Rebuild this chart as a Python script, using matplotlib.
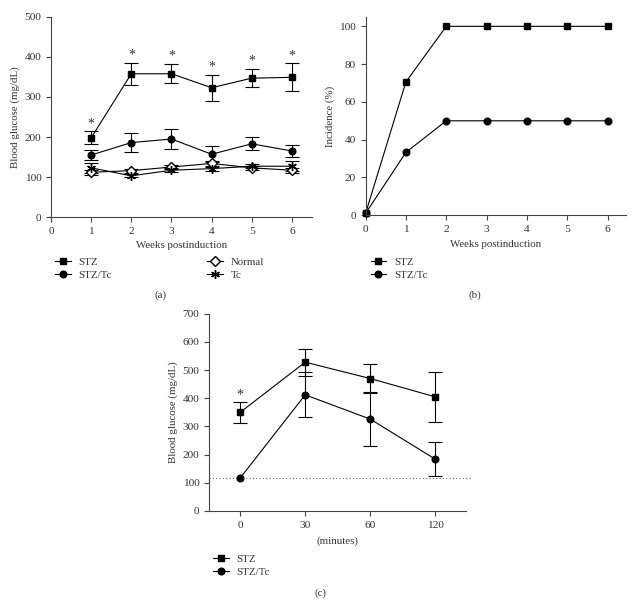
import matplotlib
matplotlib.use("Agg")
import matplotlib.pyplot as plt
from matplotlib.lines import Line2D
import numpy as np

plt.rcParams['font.family'] = ['Liberation Serif', 'DejaVu Serif']
plt.rcParams['font.size'] = 8

TXT = '#333333'
FS = 7.8
TFS = 8.2

# ---------- Panel (a) ----------
weeks_a = [1, 2, 3, 4, 5, 6]
stz_a = [198, 358, 358, 323, 347, 349]
stz_a_err = [16, 27, 24, 33, 23, 35]
stztc_a = [155, 186, 195, 157, 183, 165]
stztc_a_err = [12, 23, 24, 20, 16, 16]
normal_a = [112, 116, 125, 134, 123, 117]
normal_a_err = [6, 5, 6, 6, 5, 6]
tc_a = [123, 103, 117, 121, 127, 127]
tc_a_err = [12, 4, 5, 5, 5, 13]
star_a = [1, 2, 3, 4, 5, 6]

# ---------- Panel (b) ----------
weeks_b = [0, 1, 2, 3, 4, 5, 6]
stz_b = [1, 70.6, 100, 100, 100, 100, 100]
stztc_b = [1, 33.3, 50, 50, 50, 50, 50]

# ---------- Panel (c) ----------
time_labels = ['0', '30', '60', '120']
stz_c = [350, 528, 470, 405]
stz_c_err = [37, 48, 52, 88]
stztc_c = [117, 412, 326, 184]
stztc_c_err = [0, 80, 97, 59]
baseline_c = 116

fig = plt.figure(figsize=(6.38, 6.03), dpi=100)

def style(ax):
    for s in ['top', 'right']:
        ax.spines[s].set_visible(False)
    for s in ['left', 'bottom']:
        ax.spines[s].set_linewidth(0.8)
        ax.spines[s].set_color('#444444')
    ax.tick_params(direction='out', length=3.5, width=0.8, colors='#444444',
                   labelcolor=TXT, labelsize=TFS)

lw = 0.8
ms = 4.8
cap = 5

def h(marker, label, mfc='black', size=ms):
    return Line2D([], [], color='black', lw=lw, marker=marker, ms=size, mfc=mfc, label=label)

def eb(ax, x, y, e, marker, mfc='black', size=ms):
    x = np.asarray(x); y = np.asarray(y); e = np.asarray(e)
    ax.plot(x, y, color='black', lw=lw, marker=marker, ms=size, mfc=mfc, zorder=3)
    m = e > 0
    ax.errorbar(x[m], y[m], yerr=e[m], fmt='none', ecolor='black', elinewidth=lw,
                capsize=cap, capthick=lw, zorder=2)

STAR = (6, 2, 0)
LEGKW = dict(loc='upper left', frameon=False, handlelength=1.45, handletextpad=0.7,
             labelspacing=0.3, fontsize=FS, labelcolor=TXT, borderaxespad=0)

ax1 = fig.add_axes([0.080, 0.640, 0.409, 0.332])
style(ax1)
eb(ax1, weeks_a, stz_a, stz_a_err, 's')
eb(ax1, weeks_a, stztc_a, stztc_a_err, 'o')
eb(ax1, weeks_a, normal_a, normal_a_err, 'D', mfc='white')
eb(ax1, weeks_a, tc_a, tc_a_err, STAR, size=ms + 1.5)
for x, v, e in zip(weeks_a, stz_a, stz_a_err):
    if x in star_a:
        ax1.text(x, v + e + 3, '*', ha='center', va='bottom', fontsize=10, color=TXT)
ax1.set_xlim(0, 6.5)
ax1.set_ylim(0, 500)
ax1.set_xticks(range(0, 7))
ax1.set_yticks(range(0, 501, 100))
ax1.set_xlabel('Weeks postinduction', color=TXT, fontsize=FS, labelpad=4)
ax1.set_ylabel('Blood glucose (mg/dL)', color=TXT, fontsize=FS, labelpad=3)
fig.legend(handles=[h('s', 'STZ'), h('o', 'STZ/Tc'), h('D', 'Normal', mfc='white'),
                    h(STAR, 'Tc', size=ms + 1.5)],
           ncol=2, bbox_to_anchor=(0.080, 0.580), columnspacing=8.8, **LEGKW)
fig.text(0.251, 0.510, '(a)', ha='center', va='center', color=TXT, fontsize=FS)

ax2 = fig.add_axes([0.573, 0.643, 0.408, 0.329])
style(ax2)
ax2.plot(weeks_b, stz_b, color='black', lw=lw, marker='s', ms=ms, clip_on=False)
ax2.plot(weeks_b, stztc_b, color='black', lw=lw, marker='o', ms=ms, clip_on=False)
ax2.set_xlim(0, 6.45)
ax2.set_ylim(0, 105)
ax2.set_xticks(range(0, 7))
ax2.set_yticks(range(0, 101, 20))
ax2.set_xlabel('Weeks postinduction', color=TXT, fontsize=FS, labelpad=4)
ax2.set_ylabel('Incidence (%)', color=TXT, fontsize=FS, labelpad=3)
fig.legend(handles=[h('s', 'STZ'), h('o', 'STZ/Tc')],
           bbox_to_anchor=(0.574, 0.580), **LEGKW)
fig.text(0.745, 0.510, '(b)', ha='center', va='center', color=TXT, fontsize=FS)

ax3 = fig.add_axes([0.3276, 0.1526, 0.4024, 0.3272])
style(ax3)
xc = np.arange(len(time_labels))
ax3.axhline(baseline_c, color='#666666', lw=0.8, ls=(0, (1, 2)), xmax=1.02, clip_on=False)
eb(ax3, xc, stz_c, stz_c_err, 's')
eb(ax3, xc, stztc_c, stztc_c_err, 'o')
ax3.text(xc[0], stz_c[0] + stz_c_err[0] + 3, '*', ha='center', va='bottom', fontsize=10, color=TXT)
ax3.set_xlim(-0.48, 3.47)
ax3.set_ylim(0, 700)
ax3.set_xticks(xc)
ax3.set_xticklabels(time_labels)
ax3.set_yticks(range(0, 701, 100))
ax3.set_xlabel('(minutes)', color=TXT, fontsize=FS, labelpad=5)
ax3.set_ylabel('Blood glucose (mg/dL)', color=TXT, fontsize=FS, labelpad=3)
fig.legend(handles=[h('s', 'STZ'), h('o', 'STZ/Tc')],
           bbox_to_anchor=(0.327, 0.088), **LEGKW)
fig.text(0.502, 0.017, '(c)', ha='center', va='center', color=TXT, fontsize=FS)

fig.savefig('out.png', dpi=100)
